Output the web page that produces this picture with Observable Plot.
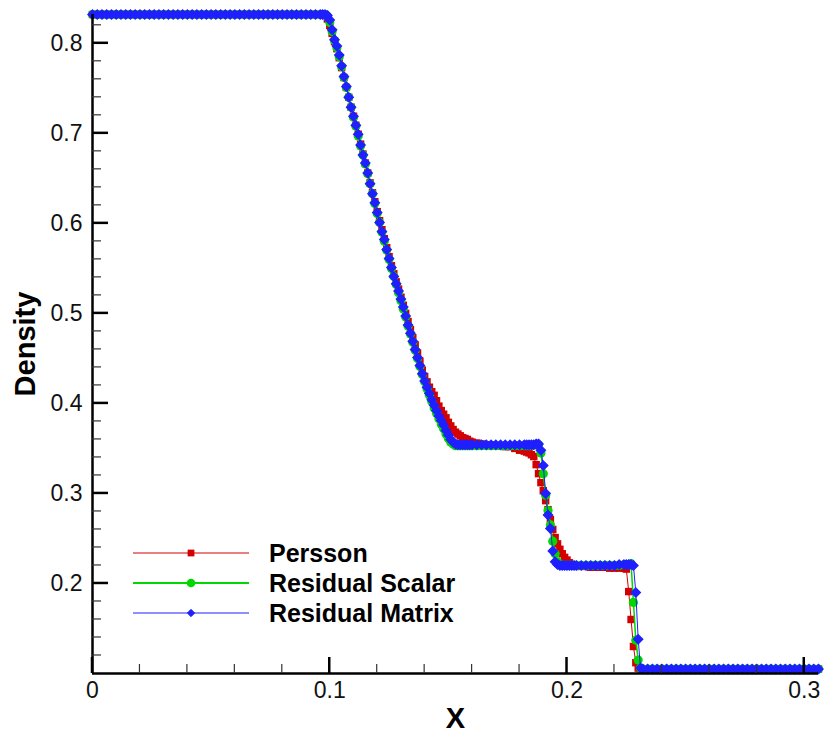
<!DOCTYPE html>
<html>
<head>
<meta charset="utf-8">
<script src="https://cdn.jsdelivr.net/npm/d3@7"></script>
<script src="https://cdn.jsdelivr.net/npm/@observablehq/plot@0.6"></script>
<style>
  html, body { margin: 0; padding: 0; background: #fff; }
  #chart { width: 824px; height: 732px; }
  svg text { font-family: "Liberation Sans", Arial, Helvetica, sans-serif; }
</style>
</head>
<body>
<div id="chart"></div>
<script>
// Solution nodes (x) shared by the three runs
const xNodes = [
  0,.002,.004,.006,.008,.010,.012,.014,.016,.018,.020,.022,.024,.026,.028,.030,.032,.034,.036,.038,.040,.042,.044,.046,.048,.050,.052,.054,.056,.058,.060,.062,.064,.066,.068,.070,.072,.074,.076,.078,.080,.082,.084,.086,.088,.090,.092,.094,.096,
  .097,.098,.099,.100,.101,.102,.103,.104,.105,.106,.107,.108,.109,.110,.111,.112,.113,.114,.115,.116,.117,.118,.119,.120,.121,.122,.123,.124,.125,.126,.127,.128,.129,.130,.131,.132,.133,.134,.135,.136,.137,.138,.139,.140,.141,.142,.143,.144,.145,.146,.147,.148,.149,.150,.151,.152,.153,.154,.155,.156,.157,.158,.159,.160,
  .162,.164,.166,.168,.170,.172,.174,.176,.178,.180,.182,
  .183,.184,.185,.186,.187,.188,.189,.190,.191,.192,.193,.194,.195,.196,.197,.198,.199,.200,.201,.202,.203,.204,
  .206,.208,.210,.212,.214,.216,.218,.220,.222,.224,
  .225,.226,.227,.228,.229,.230,.231,.232,
  .234,.236,.238,.240,.242,.244,.246,.248,.250,.252,.254,.256,.258,.260,.262,.264,.266,.268,.270,.272,.274,.276,.278,.280,.282,.284,.286,.288,.290,.292,.294,.296,.298,.300,.302,.304,.306
];

// Density, Persson shock sensor
const persson = [
  .832,.832,.832,.832,.832,.832,.832,.832,.832,.832,.832,.832,.832,.832,.832,.832,.832,.832,.832,.832,.832,.832,.832,.832,.832,.832,.832,.832,.832,.832,.832,.832,.832,.832,.832,.832,.832,.832,.832,.832,.832,.832,.832,.832,.832,.832,.832,.832,.832,
  .832,.831,.827,.820,.811,.802,.794,.784,.773,.762,.751,.740,.729,.719,.709,.699,.688,.677,.667,.656,.645,.634,.624,.613,.603,.593,.583,.573,.563,.553,.544,.535,.527,.518,.509,.500,.491,.482,.473,.465,.456,.447,.437,.430,.424,.418,.413,.409,.403,.397,.392,.388,.384,.379,.375,.371,.368,.366,.364,.362,.361,.360,.358,.357,
  .356,.355,.354,.354,.353,.353,.352,.352,.350,.348,.347,
  .346,.345,.343,.341,.332,.322,.312,.303,.292,.282,.271,.260,.251,.244,.238,.233,.229,.226,.223,.221,.220,.219,
  .219,.219,.218,.218,.218,.218,.217,.217,.217,.217,
  .216,.191,.160,.130,.112,.106,.105,.105,
  .105,.105,.105,.105,.105,.105,.105,.105,.105,.105,.105,.105,.105,.105,.105,.105,.105,.105,.105,.105,.105,.105,.105,.105,.105,.105,.105,.105,.105,.105,.105,.105,.105,.105,.105,.105,.105
];

// Density, residual-based viscosity (scalar)
const residualScalar = [
  .832,.832,.832,.832,.832,.832,.832,.832,.832,.832,.832,.832,.832,.832,.832,.832,.832,.832,.832,.832,.832,.832,.832,.832,.832,.832,.832,.832,.832,.832,.832,.832,.832,.832,.832,.832,.832,.832,.832,.832,.832,.832,.832,.832,.832,.832,.832,.832,.832,
  .832,.832,.830,.823,.813,.803,.795,.785,.774,.762,.751,.740,.729,.718,.708,.697,.686,.676,.666,.655,.644,.633,.622,.611,.601,.590,.580,.570,.560,.550,.541,.532,.523,.514,.505,.496,.486,.477,.468,.459,.450,.441,.432,.424,.416,.409,.402,.395,.389,.383,.377,.372,.366,.361,.357,.355,.353,.353,.353,.353,.353,.353,.353,.353,
  .353,.353,.353,.353,.353,.353,.353,.353,.353,.353,.353,
  .353,.353,.353,.354,.354,.354,.345,.322,.298,.281,.265,.247,.233,.224,.221,.220,.220,.220,.220,.220,.220,.220,
  .220,.220,.220,.220,.220,.220,.220,.220,.220,.221,
  .221,.221,.222,.179,.137,.115,.106,.105,
  .105,.105,.105,.105,.105,.105,.105,.105,.105,.105,.105,.105,.105,.105,.105,.105,.105,.105,.105,.105,.105,.105,.105,.105,.105,.105,.105,.105,.105,.105,.105,.105,.105,.105,.105,.105,.105
];

// Density, residual-based viscosity (matrix)
const residualMatrix = [
  .832,.832,.832,.832,.832,.832,.832,.832,.832,.832,.832,.832,.832,.832,.832,.832,.832,.832,.832,.832,.832,.832,.832,.832,.832,.832,.832,.832,.832,.832,.832,.832,.832,.832,.832,.832,.832,.832,.832,.832,.832,.832,.832,.832,.832,.832,.832,.832,.832,
  .832,.832,.831,.826,.815,.804,.797,.787,.775,.763,.752,.740,.729,.719,.709,.699,.687,.676,.667,.656,.644,.633,.623,.612,.601,.591,.582,.571,.561,.551,.541,.533,.525,.516,.507,.497,.487,.478,.469,.460,.451,.442,.433,.425,.418,.411,.404,.398,.392,.386,.381,.376,.370,.365,.360,.357,.355,.354,.354,.354,.354,.354,.354,.354,
  .354,.354,.354,.354,.354,.354,.354,.354,.354,.354,.354,
  .354,.354,.354,.354,.355,.355,.348,.331,.300,.276,.261,.236,.224,.221,.220,.220,.220,.220,.220,.220,.220,.220,
  .220,.220,.220,.220,.220,.220,.220,.220,.221,.221,
  .221,.221,.221,.220,.190,.138,.106,.105,
  .105,.105,.105,.105,.105,.105,.105,.105,.105,.105,.105,.105,.105,.105,.105,.105,.105,.105,.105,.105,.105,.105,.105,.105,.105,.105,.105,.105,.105,.105,.105,.105,.105,.105,.105,.105,.105
];

const seriesNames = ["Persson", "Residual Scalar", "Residual Matrix"];
const seriesColors = ["#d20000", "#00d800", "#1f1fff"];

const xMajorTicks = [0, 0.1, 0.2, 0.3];
const xMinorTicks = [0.02, 0.04, 0.06, 0.08, 0.12, 0.14, 0.16, 0.18, 0.22, 0.24, 0.26, 0.28];
const yMajorTicks = [0.2, 0.3, 0.4, 0.5, 0.6, 0.7, 0.8];
const yMinorTicks = [0.12, 0.14, 0.16, 0.18, 0.22, 0.24, 0.26, 0.28, 0.32, 0.34, 0.36, 0.38,
  0.42, 0.44, 0.46, 0.48, 0.52, 0.54, 0.56, 0.58, 0.62, 0.64, 0.66, 0.68, 0.72, 0.74, 0.76, 0.78, 0.82];

const xDomain = [0, 0.306];
const yDomain = [0.1, 0.832];

const rows = (ys) => xNodes.map((x, i) => ({x, y: ys[i]}));
const perssonRows = rows(persson);
const scalarRows = rows(residualScalar);
const matrixRows = rows(residualMatrix);

const W = 824, H = 732;
const plot = Plot.plot({
  width: W,
  height: H,
  marginLeft: 92,
  marginRight: 6,
  marginTop: 14,
  marginBottom: 59,
  x: {domain: xDomain},
  y: {domain: yDomain},
  style: {background: "#fff", fontSize: "23px", color: "#111", fontFamily: "Liberation Sans, Arial, sans-serif"},
  marks: [
    Plot.line(perssonRows, {x: "x", y: "y", stroke: seriesColors[0], strokeWidth: 1}),
    Plot.dot(perssonRows, {x: "x", y: "y", symbol: "square", r: 4.2, fill: seriesColors[0], stroke: "none"}),
    Plot.line(scalarRows, {x: "x", y: "y", stroke: seriesColors[1], strokeWidth: 1.5}),
    Plot.dot(scalarRows, {x: "x", y: "y", symbol: "circle", r: 4.6, fill: seriesColors[1], stroke: "none"}),
    Plot.line(matrixRows, {x: "x", y: "y", stroke: seriesColors[2], strokeWidth: 1}),
    Plot.dot(matrixRows, {x: "x", y: "y", symbol: "diamond2", r: 4.2, fill: seriesColors[2], stroke: seriesColors[2], strokeWidth: 1.2}),
    Plot.ruleX([0], {stroke: "#000", strokeWidth: 2.5}),
    Plot.ruleY([0.1], {stroke: "#000", strokeWidth: 2.5}),
    Plot.axisX({ticks: xMajorTicks, tickSize: 0, tickPadding: 8, label: null,
      tickFormat: d => d === 0 ? "0" : d.toFixed(1)}),
    Plot.axisY({ticks: yMajorTicks, tickSize: 0, tickPadding: 10, label: null,
      tickFormat: d => d.toFixed(1)}),
    Plot.text(["X"], {frameAnchor: "bottom", dy: 54, fontSize: 29, fontWeight: "bold", fill: "#000"}),
    Plot.text(["Density"], {frameAnchor: "left", textAnchor: "middle", dx: -67, rotate: -90, fontSize: 29, fontWeight: "bold", fill: "#000"})
  ]
});

document.getElementById("chart").appendChild(plot);

// Inward-pointing ticks drawn through the plot's own scales
const sx = plot.scale("x"), sy = plot.scale("y");
const svg = d3.select(plot);
const ticks = svg.append("g").attr("stroke", "#000").attr("fill", "none");
const xAxisY = sy.apply(yDomain[0]);
const yAxisX = sx.apply(xDomain[0]);
xMajorTicks.forEach(v => ticks.append("line")
  .attr("x1", sx.apply(v)).attr("x2", sx.apply(v))
  .attr("y1", xAxisY).attr("y2", xAxisY - 16).attr("stroke-width", 2.5));
xMinorTicks.forEach(v => ticks.append("line")
  .attr("x1", sx.apply(v)).attr("x2", sx.apply(v))
  .attr("y1", xAxisY).attr("y2", xAxisY - 9).attr("stroke-width", 1.2).attr("stroke", "#333"));
yMajorTicks.forEach(v => ticks.append("line")
  .attr("x1", yAxisX).attr("x2", yAxisX + 16)
  .attr("y1", sy.apply(v)).attr("y2", sy.apply(v)).attr("stroke-width", 2.5));
yMinorTicks.forEach(v => ticks.append("line")
  .attr("x1", yAxisX).attr("x2", yAxisX + 9)
  .attr("y1", sy.apply(v)).attr("y2", sy.apply(v)).attr("stroke-width", 1.2).attr("stroke", "#333"));

// Legend, inside the lower-left corner of the frame
const legend = svg.append("g").attr("transform", "translate(133,553)");
const rowGap = 30;
const symbols = [d3.symbolSquare, d3.symbolCircle, d3.symbolDiamond2];
const symbolSizes = [46, 58, 34];
const lineWidths = [1, 2, 1];
seriesNames.forEach((name, i) => {
  const g = legend.append("g").attr("transform", `translate(0,${i * rowGap})`);
  g.append("line").attr("x1", 0).attr("x2", 116).attr("y1", 0).attr("y2", 0)
    .attr("stroke", seriesColors[i]).attr("stroke-width", lineWidths[i]);
  g.append("path").attr("transform", "translate(58,0)")
    .attr("d", d3.symbol(symbols[i], symbolSizes[i])())
    .attr("fill", seriesColors[i]).attr("stroke", i === 2 ? seriesColors[i] : "none");
  g.append("text").attr("x", 136).attr("y", 0).attr("dy", "0.36em")
    .attr("text-anchor", "start")
    .attr("font-size", 25).attr("font-weight", "bold").attr("fill", "#000")
    .text(name);
});
</script>
</body>
</html>
